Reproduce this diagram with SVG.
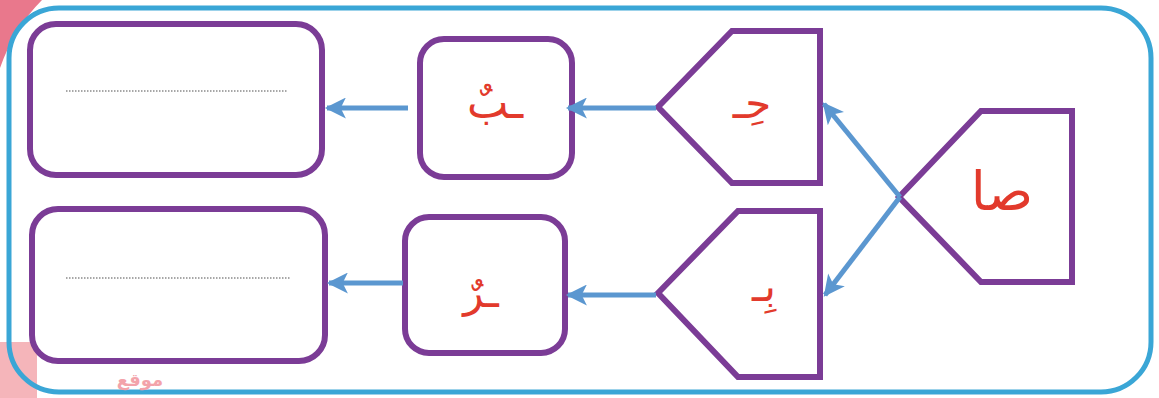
<svg xmlns="http://www.w3.org/2000/svg" width="1159" height="398" viewBox="0 0 1159 398">
<style>
.node{fill:#fff;stroke:#7b3c96;stroke-width:6;stroke-linejoin:miter}
.conn{stroke:#5b97d0;stroke-width:5;fill:none}
.lbl{font-family:"DejaVu Sans",sans-serif;fill:#e23a2c;text-anchor:middle}
.dots{stroke:#8a8a8a;stroke-width:1.5;stroke-dasharray:1.5 1.5}
</style>
<defs>
<marker id="ah" viewBox="0 0 10 10" refX="9" refY="5" markerWidth="4.4" markerHeight="4.2" orient="auto" markerUnits="strokeWidth">
<path d="M0,0 L10,5 L0,10 L2.5,5 Z" fill="#5b97d0"/>
</marker>
</defs>
<rect width="1159" height="398" fill="#fff"/>
<path d="M0,0 L42,0 Q14,28 0,68 Z" fill="#e9788c"/>
<rect x="0" y="342" width="37" height="56" fill="#f5b5ba"/>
<rect x="9" y="8" width="1142" height="384" rx="50" fill="none" stroke="#3aa6d6" stroke-width="5"/>
<text x="140" y="386" font-family="DejaVu Sans,sans-serif" font-size="18" font-weight="bold" fill="#f3a3aa" text-anchor="middle">موقع</text>
<g id="node-answer-top">
<rect class="node" x="30" y="24" width="292" height="151" rx="26"/>
<line class="dots" x1="66" y1="91" x2="288" y2="91"/>
</g>
<g id="node-answer-bottom">
<rect class="node" x="32" y="209" width="293" height="152" rx="26"/>
<line class="dots" x1="66" y1="278" x2="291" y2="278"/>
</g>
<g id="node-ba">
<rect class="node" x="420" y="39" width="152" height="138" rx="24"/>
<text class="lbl" x="495" y="118" font-size="44">ـبٌ</text>
</g>
<g id="node-ra">
<rect class="node" x="405" y="217" width="160" height="136" rx="24"/>
<text class="lbl" x="481" y="307" font-size="42">ـرٌ</text>
</g>
<g id="node-ha">
<polygon class="node" points="658,107 732,31 820,31 820,183 732,183"/>
<text class="lbl" x="752" y="118" font-size="42">حِـ</text>
</g>
<g id="node-bi">
<polygon class="node" points="658,293 738,211 820,211 820,377 738,377"/>
<text class="lbl" x="764" y="301" font-size="42">بِـ</text>
</g>
<g id="node-sa">
<polygon class="node" points="899,197 981,111 1072,111 1072,282 981,282"/>
<text class="lbl" x="1002" y="210" font-size="54">صا</text>
</g>
<g id="connectors">
<line class="conn" x1="408" y1="108" x2="327" y2="108" marker-end="url(#ah)"/>
<line class="conn" x1="403" y1="283" x2="329" y2="283" marker-end="url(#ah)"/>
<line class="conn" x1="656" y1="108" x2="568" y2="108" marker-end="url(#ah)"/>
<line class="conn" x1="656" y1="295" x2="568" y2="295" marker-end="url(#ah)"/>
<line class="conn" x1="900" y1="197" x2="824" y2="104" marker-end="url(#ah)"/>
<line class="conn" x1="900" y1="197" x2="825" y2="295" marker-end="url(#ah)"/>
</g>
</svg>
